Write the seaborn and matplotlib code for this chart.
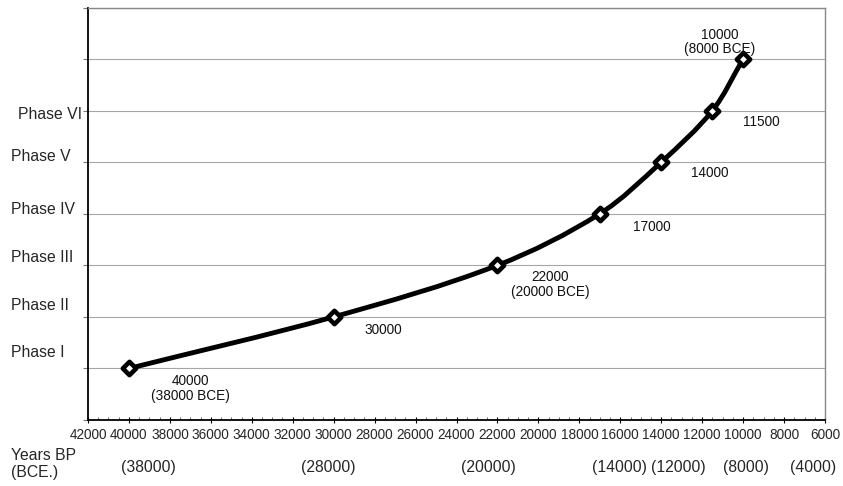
import numpy as np
import pandas as pd
import matplotlib
matplotlib.use("Agg")
import matplotlib.pyplot as plt
import matplotlib.transforms as mtransforms
from matplotlib.path import Path
from matplotlib.patches import PathPatch
from matplotlib.ticker import MultipleLocator, StrMethodFormatter
import seaborn as sns

# Data
years_bp = [40000, 30000, 22000, 17000, 14000, 11500, 10000]
phase_level = [1, 2, 3, 4, 5, 6, 7]
point_labels = ["40000\n(38000 BCE)", "30000", "22000\n(20000 BCE)",
                "17000", "14000", "11500", "10000\n(8000 BCE)"]
phase_names = ["Phase I", "Phase II", "Phase III", "Phase IV", "Phase V", "Phase VI"]
bce_labels = ["(38000)", "(28000)", "(20000)", "(14000)", "(12000)", "(8000)", "(4000)"]

# Layout (text placement)
label_offsets = [(44.6, -14.4), (36, -9.4), (38.2, -13.7), (37.4, -9.4),
                 (35.3, -7.9), (35.3, -7.9), (-16.6, 12.3)]
phase_y = [1.30, 2.23, 3.16, 4.09, 5.12, 5.93]
bce_x = [39070, 30276, 22459, 16060, 13177, 9855, 6583]

sns.set_style("white")
plt.rcParams['font.family'] = ['Liberation Sans', 'DejaVu Sans']

W, H = 843, 486
fig = plt.figure(figsize=(W / 100, H / 100), dpi=100)
ax = fig.add_axes([88 / W, 66 / H, 737 / W, 412.5 / H])

df = pd.DataFrame({"bp": years_bp, "level": phase_level})

# smoothed line drawn as Bezier segments through the data points,
# tangents worked out in screen-like units so the curve has no kinks
sx, sy = 40.94 / 2000, 51.56
pts = df[["bp", "level"]].to_numpy(float) * [sx, sy]
n = len(pts)
tang = np.zeros_like(pts)
for i in range(n):
    a = pts[max(i - 1, 0)]
    b = pts[min(i + 1, n - 1)]
    d = b - a
    tang[i] = d / np.hypot(*d)
verts = [pts[0]]
codes = [Path.MOVETO]
for i in range(n - 1):
    seg = np.hypot(*(pts[i + 1] - pts[i])) / 3
    verts += [pts[i] + tang[i] * seg, pts[i + 1] - tang[i + 1] * seg, pts[i + 1]]
    codes += [Path.CURVE4] * 3
verts = np.array(verts) / [sx, sy]
ax.add_patch(PathPatch(Path(verts, codes), fill=False, edgecolor="black",
                       lw=3.5, capstyle="round", joinstyle="round", zorder=2))

sns.scatterplot(data=df, x="bp", y="level", marker="D", s=46, color="white",
                edgecolor="black", linewidth=3.3, zorder=3, ax=ax, legend=False)

ax.set_xlim(42000, 6000)
ax.set_ylim(0, 8)
ax.set_xlabel("")
ax.set_ylabel("")

ax.xaxis.set_major_locator(MultipleLocator(2000))
ax.xaxis.set_minor_locator(MultipleLocator(500))
ax.xaxis.set_major_formatter(StrMethodFormatter("{x:.0f}"))
ax.set_yticks(range(0, 9))
ax.set_yticklabels([])

ax.grid(axis="y", color="#a6a6a6", lw=0.8)
ax.grid(axis="x", visible=False)
ax.set_axisbelow(True)

ax.tick_params(axis="x", which="major", direction="inout", length=4, width=0.8,
               color="black", labelsize=9.8, pad=4, bottom=True)
ax.tick_params(axis="x", which="minor", direction="in", length=2.5, width=0.6,
               color="#444444", bottom=True)
ax.tick_params(axis="y", which="major", direction="out", length=3.6, width=0.8,
               color="#777777", left=True)

for side in ["top", "right"]:
    ax.spines[side].set_color("#888888")
    ax.spines[side].set_linewidth(1.0)
for side in ["left", "bottom"]:
    ax.spines[side].set_color("black")
    ax.spines[side].set_linewidth(1.3)

for (x, y, lab, off) in zip(years_bp, phase_level, point_labels, label_offsets):
    ax.annotate(lab, (x, y), xytext=off, textcoords="offset points",
                ha="center", va="center", fontsize=9.8, linespacing=1.05,
                color="#111111")

# phase labels on the left
ytrans = mtransforms.blended_transform_factory(fig.transFigure, ax.transData)
for name, py in zip(phase_names, phase_y):
    if name == "Phase VI":
        fig.text(82 / W, py, name, transform=ytrans, ha="right", va="center",
                 fontsize=11.3)
    else:
        fig.text(11 / W, py, name, transform=ytrans, ha="left", va="center",
                 fontsize=11.3)

# second row of bottom labels
fig.text(11 / W, 1 - 455 / H, "Years BP", ha="left", va="center", fontsize=11.3)
fig.text(11 / W, 1 - 472 / H, "(BCE.)", ha="left", va="center", fontsize=11.3)
xtrans = mtransforms.blended_transform_factory(ax.transData, fig.transFigure)
for bx, bl in zip(bce_x, bce_labels):
    fig.text(bx, 1 - 467 / H, bl, transform=xtrans, ha="center", va="center",
             fontsize=11.3)

fig.savefig("out.png", dpi=100)
